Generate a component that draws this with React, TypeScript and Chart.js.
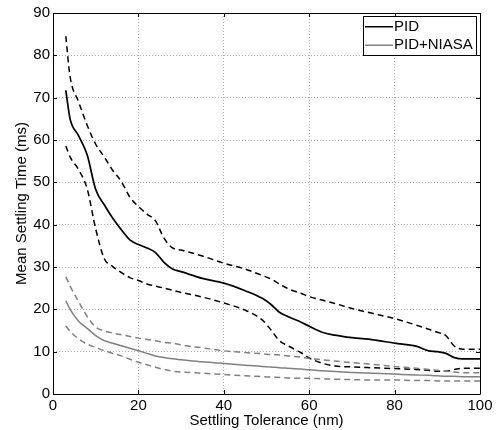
import React, { useEffect, useRef } from "react";
import { Chart, registerables } from "chart.js";

Chart.register(...registerables);

// Settling tolerance (nm) sample positions
const tolerance = [3, 4, 6, 8, 10, 12, 14, 16, 18, 20, 22, 24, 26, 28, 30, 35, 40, 45, 49, 51, 53, 55, 58, 60, 63, 66, 70, 75, 80, 85, 88, 90, 92, 94, 96, 100];

// PID mean settling time (ms) and bounds
const pidMean = [71.7, 65, 61, 56.5, 48.3, 44.7, 41.5, 38.8, 36.4, 35.3, 34.5, 33.4, 31.1, 29.5, 28.9, 27.3, 26.2, 24.4, 22.6, 21.2, 19.3, 18.3, 17.0, 16.0, 14.6, 13.9, 13.3, 12.8, 12.0, 11.3, 10.2, 10.0, 9.6, 8.6, 8.3, 8.3];
const pidUpper = [84.5, 75, 69, 63.5, 59, 56, 52.8, 50.2, 46.5, 44.3, 42.5, 40.9, 36.8, 34.5, 34.0, 32.6, 30.9, 29.5, 28.0, 27.2, 26.0, 24.9, 23.8, 23.0, 22.2, 21.4, 20.2, 19.0, 17.8, 16.3, 15.3, 14.6, 13.8, 11.3, 10.6, 10.6];
const pidLower = [58.6, 56, 53, 48.5, 39, 32, 30.1, 28.7, 27.5, 26.8, 26.0, 25.5, 25.0, 24.5, 24.0, 22.9, 21.5, 19.8, 17.5, 15.2, 12.6, 11.4, 9.8, 8.5, 7.3, 6.6, 6.4, 6.2, 6.0, 5.8, 5.6, 5.4, 5.4, 5.8, 6.1, 6.1];

// PID+NIASA mean settling time (ms) and bounds
const niasaMean = [22.0, 20.0, 17.2, 15.5, 13.8, 12.6, 12.0, 11.4, 10.8, 10.2, 9.6, 9.0, 8.6, 8.3, 8.1, 7.6, 7.2, 6.8, 6.5, 6.4, 6.2, 6.1, 5.9, 5.7, 5.5, 5.3, 5.1, 4.9, 4.7, 4.5, 4.4, 4.3, 4.2, 4.2, 4.1, 4.1];
const niasaUpper = [27.7, 25.5, 21.8, 18.3, 15.8, 14.9, 14.4, 14.0, 13.6, 13.2, 12.9, 12.6, 12.2, 12.0, 11.6, 10.9, 10.2, 9.8, 9.5, 9.3, 9.2, 9.0, 8.7, 8.4, 8.1, 7.8, 7.4, 7.0, 6.5, 6.1, 5.8, 5.6, 5.4, 5.2, 5.0, 5.0];
const niasaLower = [16.1, 14.8, 13.0, 11.8, 11.0, 10.2, 9.6, 9.0, 8.2, 7.5, 6.9, 6.3, 5.8, 5.4, 5.2, 4.9, 4.6, 4.3, 4.1, 4.0, 3.9, 3.8, 3.7, 3.7, 3.6, 3.5, 3.4, 3.3, 3.3, 3.2, 3.2, 3.1, 3.1, 3.1, 3.1, 3.1];

const xTicks = [0, 20, 40, 60, 80, 100];
const yTicks = [0, 10, 20, 30, 40, 50, 60, 70, 80, 90];
const legendLabels = ["PID", "PID+NIASA"];

const FONT = "'Liberation Sans', Arial, Helvetica, sans-serif";
const GRAY = "#808080";

const pts = (ys: number[]) => tolerance.map((x, i) => ({ x, y: ys[i] }));

const boxPlugin = {
  id: "matlabBox",
  afterDraw(chart: any) {
    const { ctx, chartArea: a, scales } = chart;
    ctx.save();
    ctx.strokeStyle = "#000";
    ctx.lineWidth = 1;
    ctx.setLineDash([]);
    ctx.beginPath();
    ctx.rect(Math.round(a.left) + 0.5, Math.round(a.top) + 0.5, Math.round(a.right - a.left), Math.round(a.bottom - a.top));
    ctx.stroke();
    const tl = 4;
    ctx.beginPath();
    for (const v of xTicks) {
      const px = Math.round(scales.x.getPixelForValue(v)) + 0.5;
      ctx.moveTo(px, a.bottom);
      ctx.lineTo(px, a.bottom - tl);
      ctx.moveTo(px, a.top);
      ctx.lineTo(px, a.top + tl);
    }
    for (const v of yTicks) {
      const py = Math.round(scales.y.getPixelForValue(v)) + 0.5;
      ctx.moveTo(a.left, py);
      ctx.lineTo(a.left + tl, py);
      ctx.moveTo(a.right, py);
      ctx.lineTo(a.right - tl, py);
    }
    ctx.stroke();

    // legend (MATLAB style, inside top-right)
    const entries = legendLabels
      .map((l) => chart.data.datasets.find((d: any) => d.label === l))
      .filter(Boolean);
    ctx.font = `15px ${FONT}`;
    let maxW = 0;
    for (const e of entries) maxW = Math.max(maxW, ctx.measureText(e.label).width);
    const lineLen = 28;
    const rowH = 18.5;
    const w = Math.round(2 + lineLen + 1 + maxW + 3);
    const h = Math.round(rowH * entries.length + 2);
    const right = Math.round(a.right) - 4;
    const top = Math.round(a.top) + 3;
    const left = right - w;
    ctx.fillStyle = "#fff";
    ctx.fillRect(left, top, w, h);
    ctx.strokeStyle = "#000";
    ctx.lineWidth = 1;
    ctx.strokeRect(left + 0.5, top + 0.5, w, h);
    entries.forEach((e: any, i: number) => {
      const cy = top + 1 + rowH * (i + 0.5) + 0.5;
      ctx.strokeStyle = e.borderColor;
      ctx.lineWidth = 1.5;
      ctx.beginPath();
      ctx.moveTo(left + 2, cy);
      ctx.lineTo(left + 2 + lineLen, cy);
      ctx.stroke();
      ctx.fillStyle = "#000";
      ctx.textBaseline = "middle";
      ctx.textAlign = "left";
      ctx.fillText(e.label, left + 2 + lineLen + 1, cy);
    });
    ctx.restore();
  },
};

export default function App() {
  const ref = useRef<HTMLCanvasElement | null>(null);

  useEffect(() => {
    document.body.style.margin = "0";
    const canvas = ref.current;
    if (!canvas) return;
    const dash = [6, 4];
    const chart = new Chart(canvas, {
      type: "line",
      data: {
        datasets: [
          { label: "PID+NIASA upper", data: pts(niasaUpper), borderColor: GRAY, borderDash: dash, borderWidth: 1.5 },
          { label: "PID+NIASA lower", data: pts(niasaLower), borderColor: GRAY, borderDash: dash, borderWidth: 1.5 },
          { label: "PID upper", data: pts(pidUpper), borderColor: "#000", borderDash: dash, borderWidth: 1.5 },
          { label: "PID lower", data: pts(pidLower), borderColor: "#000", borderDash: dash, borderWidth: 1.5 },
          { label: "PID+NIASA", data: pts(niasaMean), borderColor: GRAY, borderWidth: 1.5, order: -1 },
          { label: "PID", data: pts(pidMean), borderColor: "#000", borderWidth: 1.7, order: -2 },
        ].map((d: any) => ({ ...d, pointRadius: 0, fill: false, tension: 0.2, cubicInterpolationMode: "monotone" })),
      },
      options: {
        animation: false,
        responsive: false,
        devicePixelRatio: 1,
        layout: { padding: { left: 0, top: 13, right: 20, bottom: 0 } },
        plugins: { legend: { display: false }, tooltip: { enabled: false } },
        scales: {
          x: {
            type: "linear",
            min: 0,
            max: 100,
            afterFit: (s: any) => { s.height = 36; },
            afterBuildTicks: (s: any) => { s.ticks = xTicks.map((v) => ({ value: v })); },
            ticks: { color: "#000", font: { family: FONT, size: 15 }, padding: 3, maxRotation: 0 },
            grid: { color: "#b0b0b0", lineWidth: 1, drawTicks: false },
            border: { display: false, dash: [1, 2] },
            title: { display: true, text: "Settling Tolerance (nm)", color: "#000", font: { family: FONT, size: 15 }, padding: 0 },
          },
          y: {
            type: "linear",
            min: 0,
            max: 90,
            afterFit: (s: any) => { s.width = 53; },
            afterBuildTicks: (s: any) => { s.ticks = yTicks.map((v) => ({ value: v })); },
            ticks: { color: "#000", font: { family: FONT, size: 15 }, padding: 3 },
            grid: { color: "#b0b0b0", lineWidth: 1, drawTicks: false },
            border: { display: false, dash: [1, 2] },
            title: { display: true, text: "Mean Settling Time (ms)", color: "#000", font: { family: FONT, size: 15 }, padding: { top: 13, bottom: 0 } },
          },
        },
      } as any,
      plugins: [boxPlugin],
    });
    return () => chart.destroy();
  }, []);

  return (
    <div style={{ width: 500, height: 430 }}>
      <canvas ref={ref} width={500} height={430} style={{ width: 500, height: 430, display: "block" }} />
    </div>
  );
}
